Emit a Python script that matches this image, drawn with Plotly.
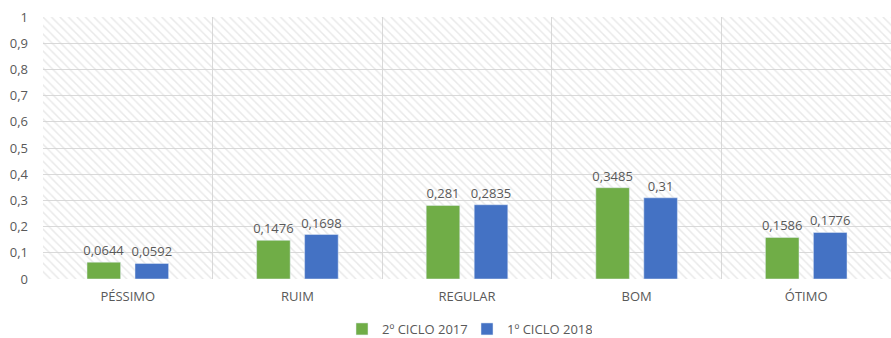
import plotly.graph_objects as go

categories = ["PÉSSIMO", "RUIM", "REGULAR", "BOM", "ÓTIMO"]
series_names = ["2º CICLO 2017", "1º CICLO 2018"]
values_2017 = [0.0644, 0.1476, 0.281, 0.3485, 0.1586]
values_2018 = [0.0592, 0.1698, 0.2835, 0.31, 0.1776]
colors = ["#70ad47", "#4472c4"]

FONT = "Open Sans"
TXT = "#595959"
n = len(categories)

fig = go.Figure()

# hatched plot background (decoration spanning the whole category range)
lo, hi = -0.5, n - 0.5
fig.add_trace(go.Scatter(
    x=[lo, hi, hi, lo, lo], y=[0, 0, 1, 1, 0],
    mode="lines", line=dict(width=0), fill="toself",
    fillcolor="rgba(0,0,0,0)",
    fillpattern=dict(shape="\\", fgcolor="#d4d4d4", bgcolor="rgba(0,0,0,0)", size=6, solidity=0.25),
    hoverinfo="skip", showlegend=False, xaxis="x", yaxis="y",
))

for name, vals, col in zip(series_names, [values_2017, values_2018], colors):
    fig.add_trace(go.Bar(
        x=categories, y=vals, name=name, marker_color=col,
        texttemplate="%{y}", textposition="outside",
        textfont=dict(family=FONT, size=13, color=TXT), cliponaxis=False,
        xaxis="x2", yaxis="y",
    ))

fig.update_layout(
    width=891, height=338,
    margin=dict(l=43, r=0, t=17, b=59, autoexpand=False),
    paper_bgcolor="white", plot_bgcolor="white",
    separators=",.",
    uniformtext=dict(minsize=13, mode="show"),
    barmode="group", bargap=0.434, bargroupgap=0.3,
    font=dict(family=FONT, size=13, color=TXT),
    xaxis=dict(range=[lo, hi], visible=False, showgrid=False, zeroline=False),
    xaxis2=dict(type="category", categoryorder="array", categoryarray=categories,
                overlaying="x", range=[lo, hi],
                showgrid=True, gridcolor="#d9d9d9", gridwidth=1,
                tickson="boundaries", ticks="", showline=False,
                side="bottom", anchor="y", ticklabelstandoff=8, automargin=False,
                tickfont=dict(family=FONT, size=13, color=TXT)),
    yaxis=dict(range=[0, 1], dtick=0.1, showgrid=True, gridcolor="#d9d9d9", gridwidth=1,
               zeroline=False, showline=False, ticks="", tickformat="~r",
               ticklabelstandoff=14, automargin=False,
               tickfont=dict(family=FONT, size=13, color=TXT)),
    legend=dict(orientation="h", x=0.5, xanchor="center", xref="paper",
                y=9 / 338, yref="container", yanchor="middle",
                entrywidth=80, entrywidthmode="pixels",
                font=dict(family=FONT, size=13, color=TXT), itemwidth=30, traceorder="normal"),
)

fig.write_html("out.html")
